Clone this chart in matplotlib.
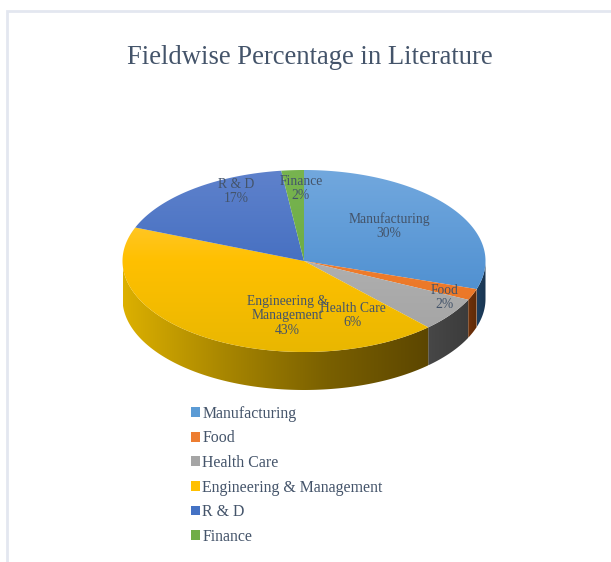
import numpy as np
import matplotlib
matplotlib.use("Agg")
import matplotlib.pyplot as plt
from matplotlib.colors import LinearSegmentedColormap
from matplotlib.patches import Polygon, Patch

# Share of each field in the literature (percent)
fields = ["Manufacturing", "Food", "Health Care", "Engineering & Management", "R & D", "Finance"]
shares = [30, 2, 6, 43, 17, 2]

legend_colors = ["#5b9bd5", "#ed7d31", "#a5a5a5", "#ffc000", "#4472c4", "#70ad47"]
# vertical shading of the lid, light to dark
top_colors = [["#72a8de", "#3f85cb"],
              ["#f58a3c", "#e8701f"],
              ["#bcbcbc", "#a2a2a2"],
              ["#ffd060", "#ffc000", "#e9b700"],
              ["#5f82cc", "#2f5fb8"],
              ["#78b450", "#64a63c"]]
# horizontal shading of the rim, left to right
side_colors = [["#1d3f60", "#1a3550"],
               ["#70320a", "#5e2a08"],
               ["#474747", "#3c3c3c"],
               ["#dcb000", "#a88600", "#7a6000", "#5c4600"],
               ["#1d3f60", "#1a3550"],
               ["#1d3f60", "#1a3550"]]

label_xy = [(389, 226), (445, 297.5), (352.5, 315.5), (287.5, 315.5), (236, 191.5), (301, 188.5)]
text_color = "#44546a"

cx, cy = 304, 261
rx, ry = 181.5, 91
depth = 38

plt.rcParams["font.family"] = ["Liberation Serif", "DejaVu Serif"]
fig = plt.figure(figsize=(6.11, 5.62), dpi=100)
ax = fig.add_axes([0, 0, 1, 1])


def rim(t):
    # angle is clockwise from twelve o'clock, in degrees
    t = np.radians(t)
    return cx + rx * np.sin(t), cy - ry * np.cos(t)


def shaded(poly, stops, horizontal=False):
    # gradient image cut down to the outline of one piece
    xs, ys = poly[:, 0], poly[:, 1]
    grad = np.linspace(0, 1, 256)
    grad = grad.reshape(1, -1) if horizontal else grad.reshape(-1, 1)
    cmap = LinearSegmentedColormap.from_list("piece", stops)
    if horizontal:
        extent = [xs.min(), xs.max(), ys.max(), ys.min()]
    else:
        extent = [cx - rx - 2, cx + rx + 2, cy + ry + 1, cy - ry - 1]
    im = ax.imshow(grad, cmap=cmap, extent=extent, aspect="auto", vmin=0, vmax=1, interpolation="bilinear")
    clip = Polygon(poly, closed=True, transform=ax.transData, fc="none", ec="none")
    ax.add_patch(clip)
    im.set_clip_path(clip)


edges = np.concatenate([[0], np.cumsum(shares)]) * 3.6

# rim first, only the front half can be seen
for i in range(len(fields)):
    a = max(edges[i], 90)
    b = min(edges[i + 1], 270)
    if b <= a:
        continue
    tt = np.linspace(a, b, 120)
    x, y = rim(tt)
    poly = np.column_stack([np.r_[x, x[::-1]], np.r_[y, y[::-1] + depth]])
    shaded(poly, side_colors[i], horizontal=True)

# lid
for i in range(len(fields)):
    tt = np.linspace(edges[i], edges[i + 1], 200)
    x, y = rim(tt)
    poly = np.column_stack([np.r_[cx, x], np.r_[cy, y]])
    shaded(poly, top_colors[i])

# data labels
for i, name in enumerate(fields):
    shown = name.replace(" & M", " &\nM")
    ax.text(label_xy[i][0], label_xy[i][1], f"{shown}\n{shares[i]}%", ha="center", va="center",
            fontsize=9.8, color=text_color, linespacing=1.15)

ax.text(309.5, 58, "Fieldwise Percentage in Literature", ha="center", va="center", fontsize=19.15, color=text_color)

handles = [Patch(fc=c, ec="none") for c in legend_colors]
ax.legend(handles, fields, loc="upper left", bbox_to_anchor=(186.5, 401), bbox_transform=ax.transData,
          frameon=False, fontsize=11.45, handlelength=0.58, handleheight=0.58, handletextpad=0.12,
          labelspacing=0.54, borderpad=0.3, borderaxespad=0, labelcolor=text_color)

# thin frame along the left and top
ax.plot([6.5, 6.5, 611], [562, 11, 11], color="#e3e7f0", lw=2, solid_capstyle="butt", solid_joinstyle="miter")

ax.set_xlim(0, 611)
ax.set_ylim(562, 0)
ax.axis("off")
fig.savefig("out.png", dpi=100, facecolor="white")
